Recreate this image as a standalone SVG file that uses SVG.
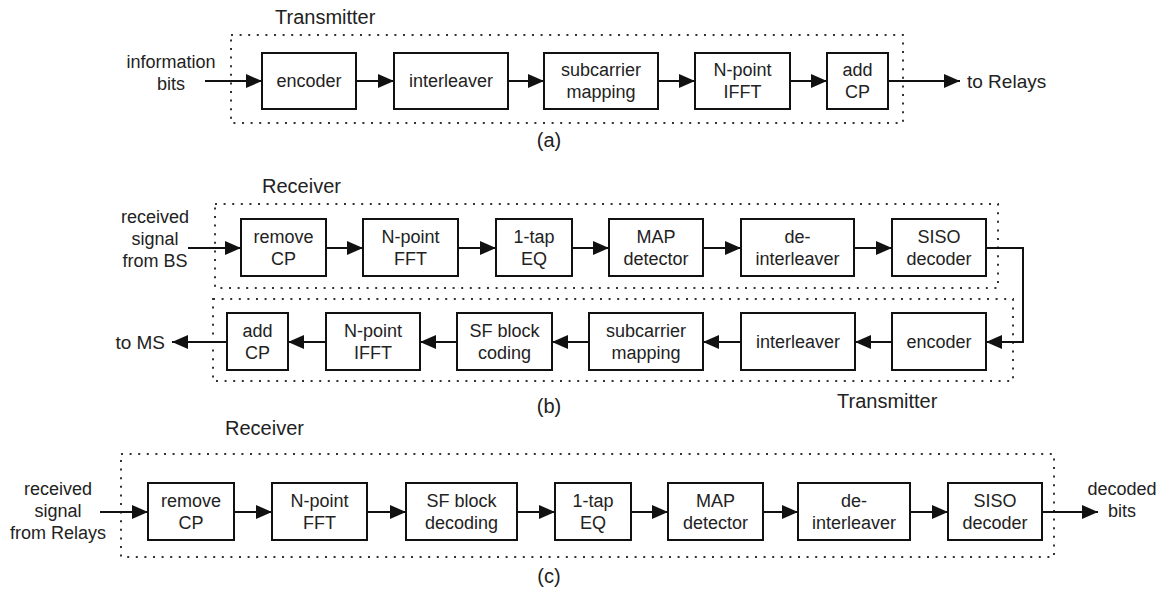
<svg xmlns="http://www.w3.org/2000/svg" width="1168" height="595" viewBox="0 0 1168 595">
<style>
  .box rect { fill: #fff; stroke: #111; stroke-width: 2; }
  .box text, .lbl { font-family: "Liberation Sans", Arial, sans-serif; font-size: 18px; fill: #222; text-anchor: middle; }
  .title { font-family: "Liberation Sans", Arial, sans-serif; font-size: 20px; fill: #222; }
  .cap { font-family: "Liberation Sans", Arial, sans-serif; font-size: 20px; fill: #222; text-anchor: middle; }
  .dot { fill: none; stroke: #333; stroke-width: 2; stroke-dasharray: 2 6.6; }
  .conn line, .conn polyline { stroke: #111; stroke-width: 2; fill: none; marker-end: url(#arr); }
</style>
<defs>
  <marker id="arr" markerUnits="userSpaceOnUse" markerWidth="16" markerHeight="14" refX="16" refY="7" orient="auto">
    <path d="M0,0 L16,7 L0,14 z" fill="#111"/>
  </marker>
</defs>
<rect width="1168" height="595" fill="#fff"/>

<!-- dotted group frames -->
<g id="frames">
  <rect class="dot" x="231" y="35" width="672" height="88"/>
  <rect class="dot" x="215" y="204" width="783" height="84"/>
  <rect class="dot" x="213" y="299" width="800" height="82"/>
  <rect class="dot" x="121" y="454" width="933" height="103"/>
</g>

<!-- labels -->
<g id="labels">
  <text class="title" x="275" y="24">Transmitter</text>
  <text class="title" x="262" y="193">Receiver</text>
  <text class="title" x="837" y="408">Transmitter</text>
  <text class="title" x="225" y="435">Receiver</text>
  <text class="cap" x="549" y="147">(a)</text>
  <text class="cap" x="549" y="413">(b)</text>
  <text class="cap" x="549" y="583">(c)</text>
  <text class="lbl" x="171" y="68">information</text>
  <text class="lbl" x="171" y="90">bits</text>
  <text class="lbl" x="967" y="88" style="text-anchor:start;font-size:19px">to Relays</text>
  <text class="lbl" x="155" y="223">received</text>
  <text class="lbl" x="155" y="245">signal</text>
  <text class="lbl" x="155" y="267">from BS</text>
  <text class="lbl" x="165" y="349" style="text-anchor:end;font-size:19px">to MS</text>
  <text class="lbl" x="58" y="495">received</text>
  <text class="lbl" x="58" y="517">signal</text>
  <text class="lbl" x="58" y="539">from Relays</text>
  <text class="lbl" x="1122" y="495">decoded</text>
  <text class="lbl" x="1122" y="517">bits</text>
</g>

<!-- (a) transmitter -->
<g id="a_encoder" class="box"><rect x="262" y="53" width="94" height="56"/><text x="309" y="87">encoder</text></g>
<g id="a_interleaver" class="box"><rect x="394" y="53" width="114" height="56"/><text x="451" y="87">interleaver</text></g>
<g id="a_subcarrier" class="box"><rect x="544" y="53" width="114" height="56"/><text x="601" y="76">subcarrier</text><text x="601" y="98">mapping</text></g>
<g id="a_ifft" class="box"><rect x="695" y="53" width="95" height="56"/><text x="742.5" y="76">N-point</text><text x="742.5" y="98">IFFT</text></g>
<g id="a_addcp" class="box"><rect x="827" y="53" width="61" height="56"/><text x="857.5" y="76">add</text><text x="857.5" y="98">CP</text></g>

<!-- (b) relay receiver -->
<g id="b_removecp" class="box"><rect x="241" y="219" width="85" height="57"/><text x="283.5" y="243">remove</text><text x="283.5" y="265">CP</text></g>
<g id="b_fft" class="box"><rect x="363" y="219" width="95" height="57"/><text x="410.5" y="243">N-point</text><text x="410.5" y="265">FFT</text></g>
<g id="b_eq" class="box"><rect x="496" y="219" width="76" height="57"/><text x="534" y="243">1-tap</text><text x="534" y="265">EQ</text></g>
<g id="b_map" class="box"><rect x="609" y="219" width="94" height="57"/><text x="656" y="243">MAP</text><text x="656" y="265">detector</text></g>
<g id="b_deint" class="box"><rect x="741" y="219" width="113" height="57"/><text x="797.5" y="243">de-</text><text x="797.5" y="265">interleaver</text></g>
<g id="b_siso" class="box"><rect x="892" y="219" width="94" height="57"/><text x="939" y="243">SISO</text><text x="939" y="265">decoder</text></g>

<!-- (b) relay transmitter -->
<g id="b_encoder" class="box"><rect x="892" y="313" width="94" height="57"/><text x="939" y="348">encoder</text></g>
<g id="b_interleaver" class="box"><rect x="741" y="313" width="114" height="57"/><text x="798" y="348">interleaver</text></g>
<g id="b_subcarrier" class="box"><rect x="589" y="313" width="114" height="57"/><text x="646" y="337">subcarrier</text><text x="646" y="359">mapping</text></g>
<g id="b_sfcoding" class="box"><rect x="457" y="313" width="95" height="57"/><text x="504.5" y="337">SF block</text><text x="504.5" y="359">coding</text></g>
<g id="b_ifft" class="box"><rect x="326" y="313" width="94" height="57"/><text x="373" y="337">N-point</text><text x="373" y="359">IFFT</text></g>
<g id="b_addcp" class="box"><rect x="227" y="313" width="61" height="57"/><text x="257.5" y="337">add</text><text x="257.5" y="359">CP</text></g>

<!-- (c) destination receiver -->
<g id="c_removecp" class="box"><rect x="148" y="483" width="86" height="57"/><text x="191" y="507">remove</text><text x="191" y="529">CP</text></g>
<g id="c_fft" class="box"><rect x="272" y="483" width="95" height="57"/><text x="319.5" y="507">N-point</text><text x="319.5" y="529">FFT</text></g>
<g id="c_sfdecoding" class="box"><rect x="406" y="483" width="111" height="57"/><text x="461.5" y="507">SF block</text><text x="461.5" y="529">decoding</text></g>
<g id="c_eq" class="box"><rect x="555" y="483" width="76" height="57"/><text x="593" y="507">1-tap</text><text x="593" y="529">EQ</text></g>
<g id="c_map" class="box"><rect x="668" y="483" width="95" height="57"/><text x="715.5" y="507">MAP</text><text x="715.5" y="529">detector</text></g>
<g id="c_deint" class="box"><rect x="798" y="483" width="112" height="57"/><text x="854" y="507">de-</text><text x="854" y="529">interleaver</text></g>
<g id="c_siso" class="box"><rect x="948" y="483" width="94" height="57"/><text x="995" y="507">SISO</text><text x="995" y="529">decoder</text></g>

<!-- connectors -->
<g id="connectors" class="conn">
  <line x1="205" y1="81" x2="262" y2="81"/>
  <line x1="356" y1="81" x2="394" y2="81"/>
  <line x1="508" y1="81" x2="544" y2="81"/>
  <line x1="658" y1="81" x2="695" y2="81"/>
  <line x1="790" y1="81" x2="827" y2="81"/>
  <line x1="888" y1="81" x2="960" y2="81"/>

  <line x1="188" y1="248" x2="241" y2="248"/>
  <line x1="326" y1="248" x2="363" y2="248"/>
  <line x1="458" y1="248" x2="496" y2="248"/>
  <line x1="572" y1="248" x2="609" y2="248"/>
  <line x1="703" y1="248" x2="741" y2="248"/>
  <line x1="854" y1="248" x2="892" y2="248"/>
  <polyline points="986,248 1023,248 1023,342 986,342"/>

  <line x1="892" y1="342" x2="855" y2="342"/>
  <line x1="741" y1="342" x2="703" y2="342"/>
  <line x1="589" y1="342" x2="552" y2="342"/>
  <line x1="457" y1="342" x2="420" y2="342"/>
  <line x1="326" y1="342" x2="288" y2="342"/>
  <line x1="227" y1="342" x2="172" y2="342"/>

  <line x1="100" y1="512" x2="148" y2="512"/>
  <line x1="234" y1="512" x2="272" y2="512"/>
  <line x1="367" y1="512" x2="406" y2="512"/>
  <line x1="517" y1="512" x2="555" y2="512"/>
  <line x1="631" y1="512" x2="668" y2="512"/>
  <line x1="763" y1="512" x2="798" y2="512"/>
  <line x1="910" y1="512" x2="948" y2="512"/>
  <line x1="1042" y1="512" x2="1098" y2="512"/>
</g>
</svg>
